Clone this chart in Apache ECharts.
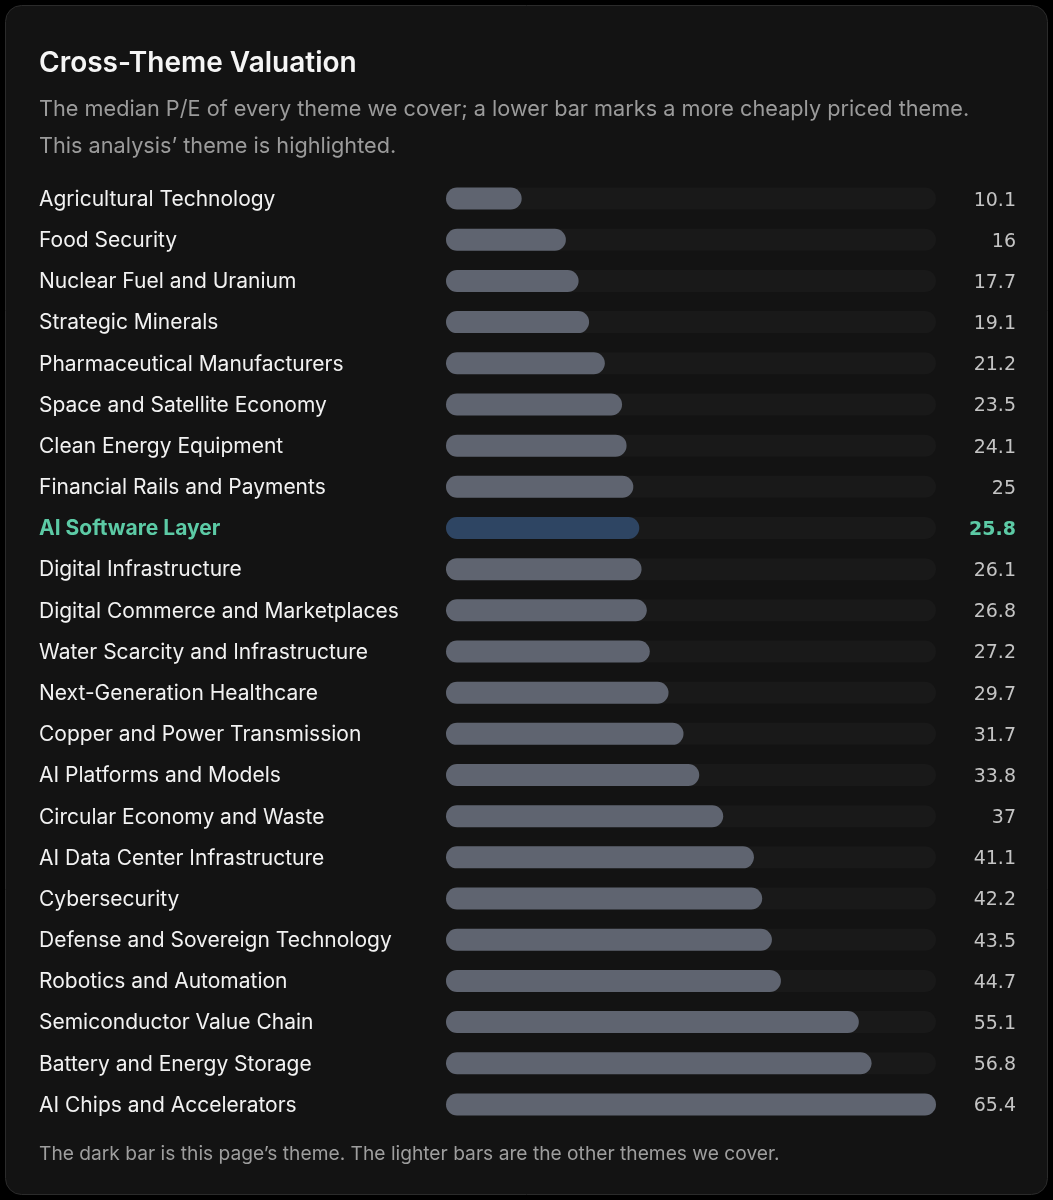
<!DOCTYPE html>
<html>
<head>
<meta charset="utf-8">
<script src="https://cdn.jsdelivr.net/npm/echarts@6/dist/echarts.min.js"></script>
<style>
html,body{margin:0;padding:0;background:#000;}
#c{width:1053px;height:1200px;}
</style>
</head>
<body>
<div id="c"></div>
<script>
const categories = [
  "Agricultural Technology","Food Security","Nuclear Fuel and Uranium","Strategic Minerals",
  "Pharmaceutical Manufacturers","Space and Satellite Economy","Clean Energy Equipment",
  "Financial Rails and Payments","AI Software Layer","Digital Infrastructure",
  "Digital Commerce and Marketplaces","Water Scarcity and Infrastructure","Next-Generation Healthcare",
  "Copper and Power Transmission","AI Platforms and Models","Circular Economy and Waste",
  "AI Data Center Infrastructure","Cybersecurity","Defense and Sovereign Technology",
  "Robotics and Automation","Semiconductor Value Chain","Battery and Energy Storage",
  "AI Chips and Accelerators"
];
const values = [10.1,16,17.7,19.1,21.2,23.5,24.1,25,25.8,26.1,26.8,27.2,29.7,31.7,33.8,37,41.1,42.2,43.5,44.7,55.1,56.8,65.4];
const highlight = "AI Software Layer";

const FONT = "Inter, 'Noto Sans', sans-serif";
const NUMFONT = "'DejaVu Sans', sans-serif";
const chart = echarts.init(document.getElementById('c'), null, {renderer:'canvas'});
const maxV = Math.max(...values);

chart.setOption({
  backgroundColor: '#000',
  animation: false,
  graphic: [{
    type: 'rect', z: -10,
    shape: {x: 5.5, y: 5.5, width: 1042, height: 1189, r: 16},
    style: {fill: '#131313', stroke: '#2b2b2b', lineWidth: 1}
  }],
  title: [
    {text: 'Cross-Theme Valuation', left: 39, top: 50, padding: 0,
     textStyle: {color: '#f5f5f5', fontSize: 28, fontWeight: 600, fontFamily: FONT}},
    {text: 'The median P/E of every theme we cover; a lower bar marks a more cheaply priced theme.\nThis analysis\u2019 theme is highlighted.',
     left: 39, top: 91, padding: 0,
     textStyle: {color: '#9b9b9b', fontSize: 21.7, fontWeight: 400, lineHeight: 37, fontFamily: FONT}},
    {text: 'The dark bar is this page\u2019s theme. The lighter bars are the other themes we cover.',
     left: 39, top: 1145, padding: 0,
     textStyle: {color: '#9e9e9e', fontSize: 19.2, fontWeight: 400, fontFamily: FONT}}
  ],
  grid: {left: 446, right: 117, top: 178, bottom: 75, containLabel: false},
  xAxis: {type: 'value', min: 0, max: maxV, show: false},
  yAxis: [
    {type: 'category', data: categories, inverse: true,
     axisLine: {show: false}, axisTick: {show: false}, splitLine: {show: false},
     axisLabel: {
       align: 'left', margin: 407, fontSize: 21, color: '#f2f2f2', fontFamily: FONT,
       padding: [2, 0, 0, 0],
       formatter: v => v === highlight ? '{hl|' + v + '}' : v,
       rich: {hl: {color: '#5ccaa5', fontWeight: 700, fontSize: 21, fontFamily: FONT}}
     }},
    {type: 'category', data: categories, inverse: true, position: 'right',
     axisLine: {show: false}, axisTick: {show: false}, splitLine: {show: false},
     axisLabel: {
       align: 'right', margin: 80, fontSize: 19, color: '#c4c4c4', fontFamily: NUMFONT,
       padding: [4, 0, 0, 0],
       formatter: (v, i) => {
         const idx = categories.indexOf(v);
         const s = String(values[idx]);
         return v === highlight ? '{hl|' + s + '}' : s;
       },
       rich: {hl: {color: '#5ccaa5', fontWeight: 700, fontSize: 19, fontFamily: NUMFONT}}
     }}
  ],
  series: [{
    type: 'bar',
    yAxisIndex: 0,
    barWidth: 22,
    data: values.map((v, i) => ({
      value: v,
      itemStyle: {color: categories[i] === highlight ? '#2e4563' : '#5f6470', borderRadius: 11}
    })),
    showBackground: true,
    backgroundStyle: {color: '#191919', borderRadius: 11}
  }]
});
</script>
</body>
</html>
